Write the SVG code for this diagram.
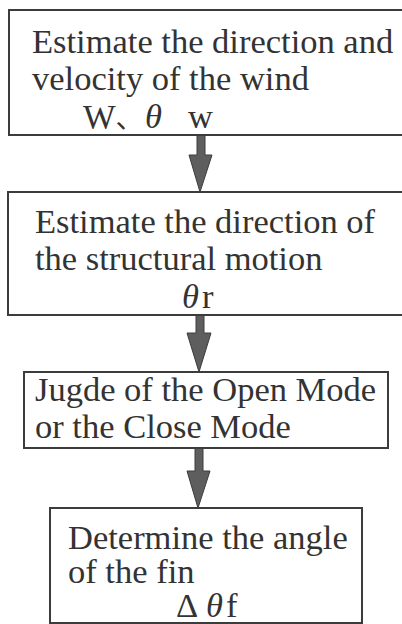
<svg xmlns="http://www.w3.org/2000/svg" width="402" height="624" viewBox="0 0 402 624">
<style>
.box{fill:#fff;stroke:#3c3c3c;stroke-width:2}
.t{font-family:"Liberation Serif","Times New Roman","Noto Sans CJK JP",serif;font-size:34.5px;fill:#333}
.it{font-style:italic}
.arr{fill:#5e5e5e;stroke:#3c3c3c;stroke-width:1}
</style>
<rect width="402" height="624" fill="#fff"/>
<g id="connectors">
<polygon class="arr" points="197,135 205,135 205,155 212,155 200,192 189,155 197,155"/>
<polygon class="arr" points="196,315 204,315 204,333 211,333 199,372 187,333 196,333"/>
<polygon class="arr" points="195,448 203,448 203,471 210,471 198,508 187,471 195,471"/>
</g>
<g id="node1">
<rect class="box" x="9" y="10" width="410" height="125"/>
<text class="t" x="32" y="53">Estimate the direction and</text>
<text class="t" x="32" y="90">velocity of the wind</text>
<text class="t" y="128"><tspan x="83">W</tspan><tspan font-family="Noto Sans CJK JP,sans-serif" font-size="28">、</tspan><tspan class="it" x="145">θ</tspan><tspan x="188">w</tspan></text>
</g>
<g id="node2">
<rect class="box" x="8" y="192" width="410" height="123"/>
<text class="t" x="35" y="233">Estimate the direction of</text>
<text class="t" x="35" y="270">the structural motion</text>
<text class="t" y="308"><tspan class="it" x="182">θ</tspan><tspan x="202">r</tspan></text>
</g>
<g id="node3">
<rect class="box" x="24" y="372" width="364" height="76"/>
<text class="t" x="35" y="401">Jugde of the Open Mode</text>
<text class="t" x="35" y="438">or the Close Mode</text>
</g>
<g id="node4">
<rect class="box" x="50" y="508" width="312" height="115"/>
<text class="t" x="68" y="549">Determine the angle</text>
<text class="t" x="68" y="583">of the fin</text>
<text class="t" y="617"><tspan x="176">Δ</tspan><tspan class="it" x="206">θ</tspan><tspan x="226">f</tspan></text>
</g>
</svg>
